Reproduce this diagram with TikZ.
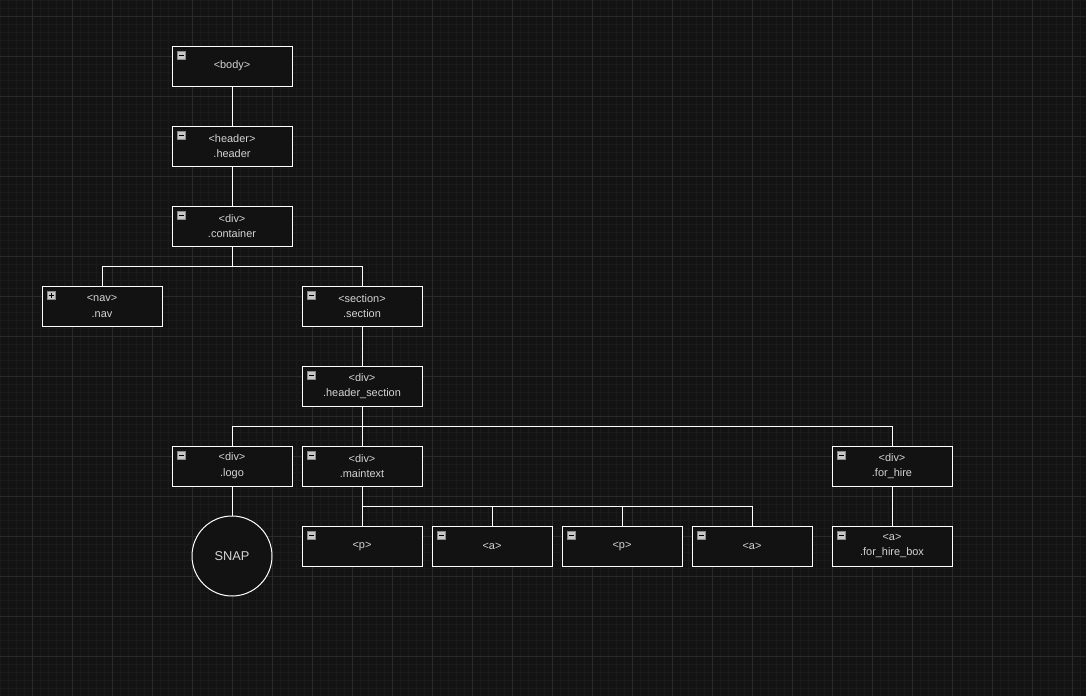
\documentclass[tikz,border=0pt]{standalone}
\usepackage{fontspec}
\setmainfont{Liberation Sans}
\definecolor{bg}{HTML}{131313}
\definecolor{minorc}{HTML}{1A1A1A}
\definecolor{majorc}{HTML}{2A2A2A}
\definecolor{boxfill}{HTML}{121212}
\definecolor{txt}{HTML}{D4D4D4}
\definecolor{iconfill}{HTML}{C8C8C8}
\definecolor{iconedge}{HTML}{8A8A8A}
\tikzset{
  minorline/.style={draw=minorc, line width=0.75pt},
  majorline/.style={draw=majorc, line width=0.75pt},
  tagbox/.style={rectangle, draw=white, fill=boxfill, line width=0.75pt,
    minimum width=90pt, minimum height=30pt, inner sep=0pt, align=center,
    text=txt, font=\fontsize{8.2}{11.8}\selectfont},
  snapnode/.style={circle, draw=white, fill=boxfill, line width=0.75pt,
    minimum size=60pt, inner sep=0pt, text=txt, font=\fontsize{9.6}{11}\selectfont},
  conn/.style={draw=white, line width=0.75pt},
  iconbox/.style={fill=iconfill, draw=iconedge, line width=0.5pt},
  iconmark/.style={draw=black, line width=0.9pt},
}
\begin{document}
\begin{tikzpicture}[x=0.75pt,y=-0.75pt]
\fill[bg] (0,0) rectangle (1086,696);
\useasboundingbox (0,0) rectangle (1086,696);
\foreach \x in {0,8,...,1086} \draw[minorline] (\x,0) -- (\x,696);
\foreach \y in {0,8,...,696} \draw[minorline] (0,\y) -- (1086,\y);
\foreach \x in {32,72,...,1086} \draw[majorline] (\x,0) -- (\x,696);
\foreach \y in {16,56,...,696} \draw[majorline] (0,\y) -- (1086,\y);

\node[tagbox] (body) at (232,66) {\raisebox{-1pt}{<body>}};
\node[tagbox] (header) at (232,146) {<header>\\.header};
\node[tagbox] (container) at (232,226) {<div>\\.container};
\node[tagbox] (nav) at (102,306) {<nav>\\.nav};
\node[tagbox] (section) at (362,306) {<section>\\.section};
\node[tagbox] (hsection) at (362,386) {<div>\\.header\_section};
\node[tagbox] (logo) at (232,466) {<div>\\.logo};
\node[tagbox] (maintext) at (362,466) {<div>\\.maintext};
\node[tagbox] (forhire) at (892,466) {<div>\\.for\_hire};
\node[snapnode] (snap) at (232,556) {SNAP};
\node[tagbox] (p1) at (362,546) {\raisebox{-1pt}{<p>}};
\node[tagbox] (a1) at (492,546) {\raisebox{-1pt}{<a>}};
\node[tagbox] (p2) at (622,546) {\raisebox{-1pt}{<p>}};
\node[tagbox] (a2) at (752,546) {\raisebox{-1pt}{<a>}};
\node[tagbox] (forhirebox) at (892,546) {<a>\\.for\_hire\_box};

\draw[conn] (body.south) -- (header.north);
\draw[conn] (header.south) -- (container.north);
\draw[conn] (container.south) -- ++(0,20) -| (nav.north);
\draw[conn] (container.south) -- ++(0,20) -| (section.north);
\draw[conn] (section.south) -- (hsection.north);
\draw[conn] (hsection.south) -- ++(0,20) -| (logo.north);
\draw[conn] (hsection.south) -- (maintext.north);
\draw[conn] (hsection.south) -- ++(0,20) -| (forhire.north);
\draw[conn] (logo.south) -- (snap.north);
\draw[conn] (maintext.south) -- (p1.north);
\draw[conn] (maintext.south) -- ++(0,20) -| (a1.north);
\draw[conn] (maintext.south) -- ++(0,20) -| (p2.north);
\draw[conn] (maintext.south) -- ++(0,20) -| (a2.north);
\draw[conn] (forhire.south) -- (forhirebox.north);

% collapse icons
\foreach \n in {body,header,container,nav,section,hsection,logo,maintext,forhire,p1,a1,p2,a2,forhirebox}{
  \draw[iconbox] ([shift={(6,6)}]\n.north west) rectangle ++(8,8);
  \draw[iconmark] ([shift={(7.8,10)}]\n.north west) -- ++(4.4,0);
}
\draw[iconmark] ([shift={(10,7.8)}]nav.north west) -- ++(0,4.4);
\end{tikzpicture}
\end{document}
